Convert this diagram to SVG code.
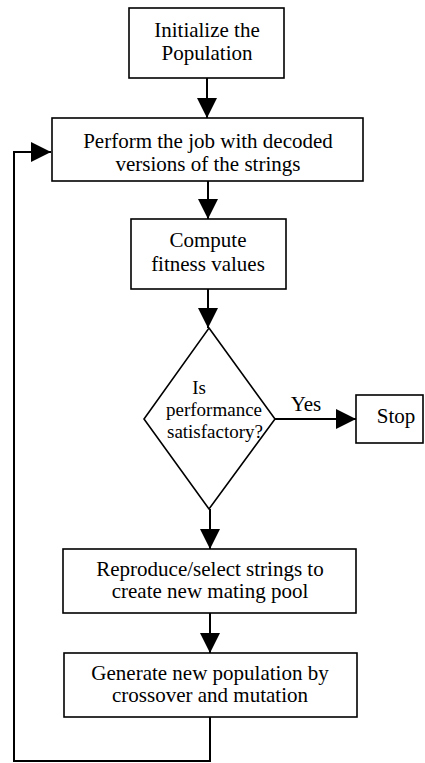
<svg xmlns="http://www.w3.org/2000/svg" width="425" height="763" viewBox="0 0 425 763">
<style>
.box{fill:#fff;stroke:#000;stroke-width:1.6}
.t{font-family:'Liberation Serif','DejaVu Serif',serif;font-size:21px;fill:#000;text-anchor:middle}
.d{font-size:19px}
.c{fill:none;stroke:#000;stroke-width:2}
</style>
<defs>
<marker id="ah" markerUnits="userSpaceOnUse" markerWidth="20" markerHeight="20" viewBox="0 0 18 18" refX="18" refY="9" orient="auto">
<path d="M0,0 L18,9 L0,18 Z" fill="#000"/>
</marker>
</defs>
<g id="connectors">
<line class="c" x1="207" y1="78" x2="207" y2="118" marker-end="url(#ah)"/>
<line class="c" x1="208" y1="181" x2="208" y2="219" marker-end="url(#ah)"/>
<line class="c" x1="208" y1="289" x2="208" y2="328" marker-end="url(#ah)"/>
<line class="c" x1="275" y1="419" x2="356" y2="419" marker-end="url(#ah)"/>
<line class="c" x1="210" y1="509" x2="210" y2="549" marker-end="url(#ah)"/>
<line class="c" x1="210" y1="613" x2="210" y2="653" marker-end="url(#ah)"/>
<path class="c" d="M210,717 V761 H14 V152 H51" marker-end="url(#ah)"/>
<text class="t" x="306" y="411" font-family="Liberation Serif, serif">Yes</text>
</g>
<g id="init">
<rect class="box" x="129" y="8" width="155" height="70"/>
<text class="t" x="207" y="37" font-family="Liberation Serif, serif">Initialize the</text>
<text class="t" x="207" y="60" font-family="Liberation Serif, serif">Population</text>
</g>
<g id="perform">
<rect class="box" x="52" y="118" width="311" height="63"/>
<text class="t" x="208" y="148" font-family="Liberation Serif, serif">Perform the job with decoded</text>
<text class="t" x="208" y="171" font-family="Liberation Serif, serif">versions of the strings</text>
</g>
<g id="fitness">
<rect class="box" x="131" y="219" width="155" height="70"/>
<text class="t" x="208" y="247" font-family="Liberation Serif, serif">Compute</text>
<text class="t" x="208" y="271" font-family="Liberation Serif, serif">fitness values</text>
</g>
<g id="decision">
<polygon class="box" points="209,328 275,419 209,509 144,419"/>
<text class="t d" x="199" y="394" font-family="Liberation Serif, serif">Is</text>
<text class="t d" x="214" y="416" font-family="Liberation Serif, serif">performance</text>
<text class="t d" x="215" y="438" font-family="Liberation Serif, serif">satisfactory?</text>
</g>
<g id="stop">
<rect class="box" x="356" y="395" width="67" height="48"/>
<text class="t" x="396" y="423" font-family="Liberation Serif, serif">Stop</text>
</g>
<g id="reproduce">
<rect class="box" x="63" y="549" width="293" height="64"/>
<text class="t" x="210" y="576" font-family="Liberation Serif, serif">Reproduce/select strings to</text>
<text class="t" x="210" y="598" font-family="Liberation Serif, serif">create new mating pool</text>
</g>
<g id="generate">
<rect class="box" x="64" y="653" width="293" height="64"/>
<text class="t" x="210" y="680" font-family="Liberation Serif, serif">Generate new population by</text>
<text class="t" x="210" y="702" font-family="Liberation Serif, serif">crossover and mutation</text>
</g>
</svg>
